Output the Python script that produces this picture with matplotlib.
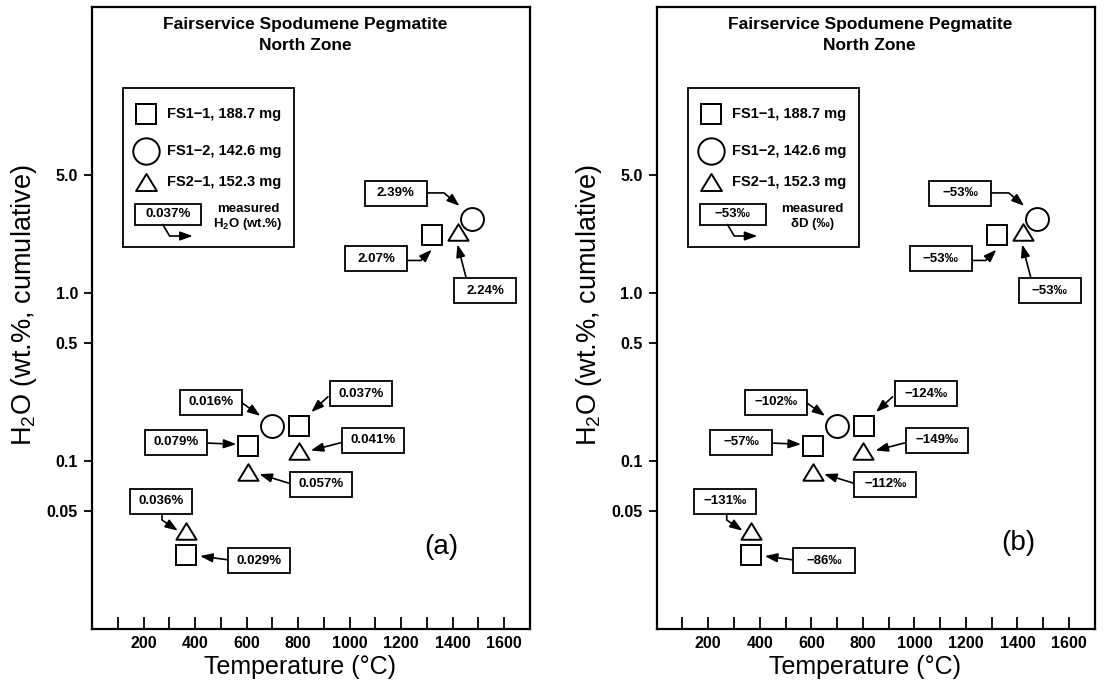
import matplotlib
matplotlib.use("Agg")
import matplotlib.pyplot as plt
import matplotlib.transforms as mtransforms
from matplotlib.path import Path
from matplotlib.patches import Rectangle
from matplotlib.ticker import FixedLocator, NullLocator, FixedFormatter

plt.rcParams['font.family'] = ['Liberation Sans', 'DejaVu Sans']
plt.rcParams['mathtext.default'] = 'regular'

# ---------------- data ----------------
sample_labels = ["FS1\u22121, 188.7 mg", "FS1\u22122, 142.6 mg", "FS2\u22121, 152.3 mg"]

fs11_temp = [365, 605, 805, 1320]
fs11_h2o = [0.0277, 0.122, 0.161, 2.19]
fs12_temp = [700, 1475]
fs12_h2o = [0.160, 2.75]
fs21_temp = [365, 606, 802, 1420]
fs21_h2o = [0.0385, 0.0861, 0.1146, 2.29]

fs11_water = ["0.029%", "0.079%", "0.037%", "2.07%"]
fs12_water = ["0.016%", "2.39%"]
fs21_water = ["0.036%", "0.057%", "0.041%", "2.24%"]

fs11_dD = ["\u221286\u2030", "\u221257\u2030", "\u2212124\u2030", "\u221253\u2030"]
fs12_dD = ["\u2212102\u2030", "\u221253\u2030"]
fs21_dD = ["\u2212131\u2030", "\u2212112\u2030", "\u2212149\u2030", "\u221253\u2030"]

x_major = [200, 400, 600, 800, 1000, 1200, 1400, 1600]
x_major_labels = ["200", "400", "600", "800", "1000", "1200", "1400", "1600"]
x_minor = [100, 300, 500, 700, 900, 1100, 1300, 1500]
y_ticks = [0.05, 0.1, 0.5, 1.0, 5.0]
y_tick_labels = ["0.05", "0.1", "0.5", "1.0", "5.0"]

title_lines = ["Fairservice Spodumene Pegmatite", "North Zone"]
panel_letters = ["(a)", "(b)"]
legend_example = ["0.037%", "\u221253\u2030"]
legend_measured = [["measured", "H$_2$O (wt.%)"], ["measured", "\u03b4D (\u2030)"]]

# ---------------- layout (pixels, image coords: y down) ----------------
W_PX, H_PX = 1107, 692
AX_LEFTS = [92.0, 656.7]
AX_TOP, AX_BOT, AX_W = 6.7, 629.0, 438.0
AX_H = AX_BOT - AX_TOP

# annotation layout: (text offset, arrow start offset, arrow tip offset, connectionstyle)
ANN_FS11 = [
    ((73.2, 6.2), (42.2, 5.3), (14.0, 1.5), "arc3,rad=0"),
    ((-71.4, -4.0), (-41.5, -3.2), (-11.5, -2.0), "arc3,rad=0"),
    ((62.0, -32.0), (28.5, -29.2), (11.8, -13.8), "arc3,rad=0"),
    ((-56.0, 23.5), (-24.0, 25.2), (-0.4, 14.4), "angle,angleA=0,angleB=45,rad=0"),
]
ANN_FS12 = [
    ((-61.4, -24.4), (-31.2, -24.2), (-12.0, -10.5), "arc3,rad=0"),
    ((-76.4, -25.5), (-47.0, -25.7), (-12.5, -12.7), "angle,angleA=0,angleB=-40,rad=0"),
]
ANN_FS21 = [
    ((-25.3, -29.1), (-24.0, -16.8), (-8.2, 0.2), "angle,angleA=90,angleB=-34,rad=0"),
    ((72.6, 12.4), (41.2, 11.6), (11.2, 2.4), "arc3,rad=0"),
    ((74.1, -10.8), (43.0, -8.3), (12.1, -0.3), "arc3,rad=0"),
    ((27.1, 58.8), (8.4, 46.3), (-0.4, 12.4), "arc3,rad=0"),
]
LETTER_POS = [(349.7, 546.7), (361.6, 543.3)]
ARROW = '-|>,head_length=0.75,head_width=0.27'

tri_path = Path([(-1, -0.82), (1, -0.82), (0, 0.82), (-1, -0.82)],
                [Path.MOVETO, Path.LINETO, Path.LINETO, Path.CLOSEPOLY])


def fixed_box(w_px, h_px):
    def style(x0, y0, width, height, mutation_size):
        cx = x0 + width / 2.0
        cy = y0 + height / 2.0
        hw, hh = w_px / 2.0, h_px / 2.0
        verts = [(cx - hw, cy - hh), (cx + hw, cy - hh), (cx + hw, cy + hh),
                 (cx - hw, cy + hh), (cx - hw, cy - hh)]
        return Path(verts, [Path.MOVETO, Path.LINETO, Path.LINETO, Path.LINETO, Path.CLOSEPOLY])
    return style


fig = plt.figure(figsize=(W_PX / 100, H_PX / 100), dpi=100)


def axfrac(rx, py):
    """rx: px right of axes left spine; py: absolute image y (down)."""
    return rx / AX_W, (AX_BOT - py) / AX_H


def off(ax, dx, dy):
    return mtransforms.offset_copy(ax.transData, fig=fig, x=dx * 0.72, y=-dy * 0.72, units='points')


for i, x0 in enumerate(AX_LEFTS):
    ax = fig.add_axes([x0 / W_PX, 1 - AX_BOT / H_PX, AX_W / W_PX, AX_H / H_PX])
    ax.set_xlim(0, 1700)
    ax.set_yscale('log')
    ax.set_ylim(0.01, 50)
    for s in ax.spines.values():
        s.set_linewidth(1.6)

    ax.xaxis.set_major_locator(FixedLocator(x_major))
    ax.xaxis.set_major_formatter(FixedFormatter(x_major_labels))
    ax.xaxis.set_minor_locator(FixedLocator(x_minor))
    ax.yaxis.set_major_locator(FixedLocator(y_ticks))
    ax.yaxis.set_major_formatter(FixedFormatter(y_tick_labels))
    ax.yaxis.set_minor_locator(NullLocator())
    ax.tick_params(axis='x', which='both', direction='in', length=9, width=1.3,
                   labelsize=11.5, pad=5)
    ax.tick_params(axis='y', which='both', direction='out', length=6, width=1.3,
                   labelsize=11.5, pad=4)
    for lab in ax.get_xticklabels() + ax.get_yticklabels():
        lab.set_fontweight('bold')

    # markers
    mk = dict(ls='none', mfc='white', mec='black', mew=1.4, zorder=3)
    ax.plot(fs11_temp, fs11_h2o, marker='s', ms=14, **mk)
    ax.plot(fs12_temp, fs12_h2o, marker='o', ms=16.5, **mk)
    ax.plot(fs21_temp, fs21_h2o, marker=tri_path, ms=14.5, **mk)

    labels = [(fs11_water, fs12_water, fs21_water), (fs11_dD, fs12_dD, fs21_dD)][i]
    groups = [(fs11_temp, fs11_h2o, labels[0], ANN_FS11),
              (fs12_temp, fs12_h2o, labels[1], ANN_FS12),
              (fs21_temp, fs21_h2o, labels[2], ANN_FS21)]
    for temps, vals, labs, lay in groups:
        for x, y, lab, (t_off, s_off, p_off, cs) in zip(temps, vals, labs, lay):
            ax.text(x, y, lab, transform=off(ax, *t_off), ha='center', va='center',
                    fontsize=9.5, fontweight='bold', zorder=5,
                    bbox=dict(boxstyle=fixed_box(62, 25), fc='white', ec='black', lw=1.3))
            ax.annotate('', xy=(x, y), xycoords=off(ax, *p_off),
                        xytext=(x, y), textcoords=off(ax, *s_off),
                        arrowprops=dict(arrowstyle=ARROW,
                                        connectionstyle=cs, lw=1.2, color='black',
                                        shrinkA=0, shrinkB=0, mutation_scale=10),
                        zorder=4)

    # title
    ax.text(*axfrac(213, 24), title_lines[0], transform=ax.transAxes, ha='center',
            va='center', fontsize=12.5, fontweight='bold')
    ax.text(*axfrac(213, 46), title_lines[1], transform=ax.transAxes, ha='center',
            va='center', fontsize=12.5, fontweight='bold')

    # panel letter
    ax.text(*axfrac(LETTER_POS[i][0], LETTER_POS[i][1]), panel_letters[i],
            transform=ax.transAxes, ha='center', va='center', fontsize=20)

    # axis labels
    ax.text(*axfrac(208, 667), "Temperature (\u00b0C)", transform=ax.transAxes,
            ha='center', va='center', fontsize=18, clip_on=False)
    ax.text(*axfrac(-68, 305), "H$_2$O (wt.%, cumulative)", transform=ax.transAxes,
            ha='center', va='center', fontsize=19.5, rotation=90, clip_on=False)

    # legend box
    lx0, ly0 = axfrac(31, 247)
    lx1, ly1 = axfrac(202, 88)
    ax.add_patch(Rectangle((lx0, ly0), lx1 - lx0, ly1 - ly0, transform=ax.transAxes,
                           fc='white', ec='black', lw=1.3, zorder=2))
    leg_markers = [('s', 14), ('o', 19), (tri_path, 15)]
    for (m, ms), lab, yy in zip(leg_markers, sample_labels, [114, 151, 182]):
        ax.plot([axfrac(54, yy)[0]], [axfrac(54, yy)[1]], transform=ax.transAxes,
                marker=m, ms=ms, ls='none', mfc='white', mec='black', mew=1.4, zorder=3)
        ax.text(*axfrac(75, yy), lab, transform=ax.transAxes, ha='left', va='center',
                fontsize=10.5, fontweight='bold', zorder=3)
    ax.text(*axfrac(76, 214), legend_example[i], transform=ax.transAxes, ha='center',
            va='center', fontsize=9.5, fontweight='bold', zorder=3,
            bbox=dict(boxstyle=fixed_box(66, 21), fc='white', ec='black', lw=1.3))
    ax.annotate('', xy=axfrac(100.7, 236), xycoords='axes fraction',
                xytext=axfrac(70.7, 224.5), textcoords='axes fraction',
                arrowprops=dict(arrowstyle=ARROW,
                                connectionstyle='angle,angleA=-59,angleB=0,rad=0',
                                lw=1.2, color='black', shrinkA=0, shrinkB=0,
                                mutation_scale=10), zorder=3)
    ax.text(*axfrac(156, 209), legend_measured[i][0], transform=ax.transAxes,
            ha='center', va='center', fontsize=9.5, fontweight='bold', zorder=3)
    ax.text(*axfrac(156, 224), legend_measured[i][1], transform=ax.transAxes,
            ha='center', va='center', fontsize=9.5, fontweight='bold', zorder=3)

fig.savefig("out.png", dpi=100)
